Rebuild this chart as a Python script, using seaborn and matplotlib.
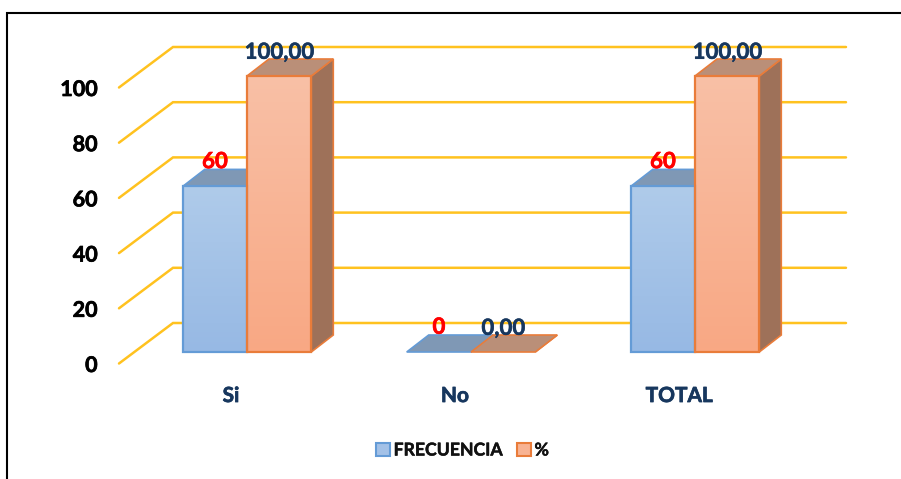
import numpy as np
import pandas as pd
import matplotlib
matplotlib.use("Agg")
import matplotlib.pyplot as plt
import matplotlib.patheffects as pe
import seaborn as sns
from matplotlib.colors import LinearSegmentedColormap
from matplotlib.lines import Line2D
from matplotlib.patches import Patch, Polygon
from matplotlib.transforms import ScaledTranslation

categories = ["Si", "No", "TOTAL"]
frecuencia = [60, 0, 60]
porcentaje = [100.0, 0.0, 100.0]
series_names = ["FRECUENCIA", "%"]
y_ticks = [0, 20, 40, 60, 80, 100]

W, H, DPI = 901, 479, 100
sns.set_theme(style="white")
plt.rcParams["font.family"] = ["Lato", "DejaVu Sans"]

NAVY = "#17375E"
STYLE = {
    "FRECUENCIA": dict(edge="#649BD6", top="#AFCBEA", bottom="#97B9E4", cap="#7F98B5", side="#6F89A8"),
    "%": dict(edge="#E97C3A", top="#F8C0A6", bottom="#F9A884", cap="#BA8F78", side="#9E7159"),
}


def thicken(text, width=0.5):
    text.set_path_effects([pe.withStroke(linewidth=width, foreground=text.get_color())])


df = pd.DataFrame({
    "categoria": categories * 2,
    "serie": [series_names[0]] * 3 + [series_names[1]] * 3,
    "valor": frecuencia + porcentaje,
})

fig = plt.figure(figsize=(W / DPI, H / DPI), dpi=DPI)
fig.patch.set_facecolor("white")
ax = fig.add_axes([135 / W, (H - 352) / H, 672 / W, 276 / H])
sns.barplot(data=df, x="categoria", y="valor", hue="serie", order=categories,
            hue_order=series_names, width=0.574, gap=0, legend=False, ax=ax,
            palette=[STYLE[s]["bottom"] for s in series_names], saturation=1)
ax.set_xlim(-0.5, 2.5)
ax.set_ylim(0, 100)
ax.set_autoscale_on(False)
ax.patch.set_alpha(0)
sns.despine(ax=ax, left=True, bottom=True)
ax.set_xlabel("")
ax.set_ylabel("")

# pixel -> data scale of the chart
PX = 1 / 224
PY = 100 / 276

# receding gridlines on the wall
for v in y_ticks:
    ax.plot([119 / 224 - 135 / 224 - 0.5, 173 / 224 - 135 / 224 - 0.5, 846 / 224 - 135 / 224 - 0.5],
            [v - 11.5 * PY, v + 29 * PY, v + 29 * PY],
            color="#FFC21F", lw=1.8, clip_on=False, zorder=1, solid_joinstyle="miter")

DX, DY = 22 * PX, 17 * PY
for cont, name in zip(ax.containers, series_names):
    st = STYLE[name]
    cmap = LinearSegmentedColormap.from_list(name, [st["bottom"], st["top"]])
    for bar in cont:
        x0, x1, h = bar.get_x(), bar.get_x() + bar.get_width(), bar.get_height()
        ax.add_patch(Polygon([(x1, 0), (x1 + DX, DY), (x1 + DX, h + DY), (x1, h)], closed=True,
                             facecolor=st["side"], edgecolor=st["edge"], lw=1.2,
                             clip_on=False, zorder=2, joinstyle="miter"))
        ax.add_patch(Polygon([(x0, h), (x1, h), (x1 + DX, h + DY), (x0 + DX, h + DY)], closed=True,
                             facecolor=st["cap"], edgecolor=st["edge"], lw=1.2,
                             clip_on=False, zorder=3, joinstyle="miter"))
        if h > 0:
            ax.imshow(np.linspace(1, 0, 64).reshape(-1, 1), cmap=cmap, vmin=0, vmax=1, aspect="auto",
                      extent=(x0, x1, 0, h), zorder=4, clip_on=False)
        bar.set_facecolor("none")
        bar.set_edgecolor(st["edge"] if h > 0 else "none")
        bar.set_linewidth(1.6)
        bar.set_zorder(5 if name == "%" else 4.5)
        bar.set_clip_on(False)

# y ticks: real tick labels, shifted into the front plane
ax.set_yticks(y_ticks)
ax.set_yticklabels([str(t) for t in y_ticks], fontsize=15.5, fontweight="bold", color="black")
ax.tick_params(axis="y", length=0, pad=27)
for lab in ax.get_yticklabels():
    lab.set_transform(lab.get_transform() + ScaledTranslation(0, -11.5 / DPI, fig.dpi_scale_trans))
    thicken(lab)

ax.set_xticks(range(len(categories)))
ax.set_xticklabels(categories, fontsize=15, fontweight="bold", color=NAVY)
ax.tick_params(axis="x", length=0, pad=24.5)
for lab in ax.get_xticklabels():
    lab.set_transform(lab.get_transform() + ScaledTranslation(-16 / DPI, 0, fig.dpi_scale_trans))
    thicken(lab)

# data labels
for t in ax.bar_label(ax.containers[0], labels=[str(v) for v in frecuencia], padding=10.3,
                      color="#FF0000", fontsize=16, fontweight="bold", zorder=7):
    thicken(t)
for t in ax.bar_label(ax.containers[1], labels=[f"{v:.2f}".replace(".", ",") for v in porcentaje],
                      padding=9.5, color=NAVY, fontsize=16, fontweight="bold", zorder=7):
    thicken(t, 0.35)

# legend
handles = [Patch(facecolor="#A3C1E7" if n != "%" else "#F8B393", edgecolor=STYLE[n]["edge"], lw=1.5)
           for n in series_names]
leg = fig.legend(handles, series_names, loc="center", bbox_to_anchor=(462.5 / W, 1 - 450 / H),
                 ncol=2, frameon=False, handlelength=0.78, handleheight=0.78, handletextpad=0.2,
                 columnspacing=0.85, prop=dict(family="Lato", weight="bold", size=12.7))
for t in leg.get_texts():
    t.set_color("#111111")
    thicken(t, 0.35)

# outer frame (top and left only)
fig.add_artist(Line2D([7 / W, 7 / W, 1], [0, 1 - 13 / H, 1 - 13 / H], color="black", lw=1.5,
                      transform=fig.transFigure, solid_joinstyle="miter"))

fig.savefig("out.png", dpi=DPI)
